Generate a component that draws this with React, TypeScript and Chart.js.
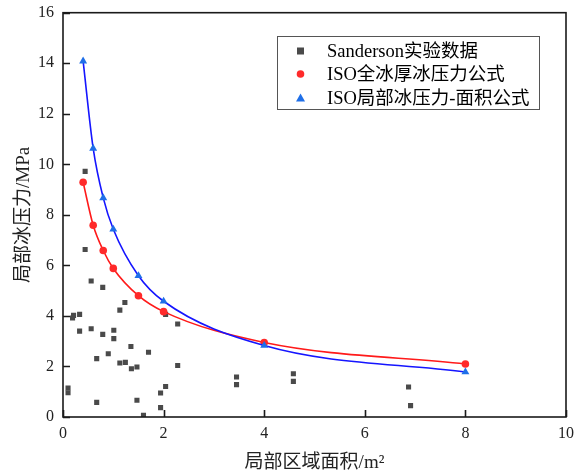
import React, { useEffect, useRef } from "react";
import { Chart, registerables } from "chart.js";

Chart.register(...registerables);

const sandersonX = [0.44, 0.44, 0.56, 0.79, 1.23, 1.13, 0.19, 0.21, 0.33, 0.33, 0.56, 0.79, 1.01, 1.01, 2.04, 2.28, 1.35, 1.70, 0.67, 0.90, 1.13, 1.24, 1.36, 1.47, 2.28, 0.10, 0.10, 0.67, 1.47, 2.04, 1.94, 1.94, 1.60, 3.45, 3.45, 4.58, 4.58, 6.87, 6.91];
const sandersonY = [9.72, 6.63, 5.38, 5.13, 4.53, 4.23, 3.92, 4.02, 4.06, 3.40, 3.49, 3.27, 3.43, 3.10, 4.06, 3.68, 2.79, 2.56, 2.31, 2.50, 2.14, 2.16, 1.91, 1.98, 2.04, 1.15, 0.96, 0.58, 0.66, 1.21, 0.95, 0.37, 0.07, 1.58, 1.28, 1.71, 1.41, 1.19, 0.45];

const isoAreas = [0.4, 0.6, 0.8, 1.0, 1.5, 2, 4, 8];
const isoFullY = [9.29, 7.59, 6.59, 5.88, 4.80, 4.17, 2.95, 2.10];
const isoLocalY = [14.08, 10.63, 8.67, 7.43, 5.59, 4.58, 2.83, 1.78];

const xTicks = [0, 2, 4, 6, 8, 10];
const yTicks = [0, 2, 4, 6, 8, 10, 12, 14, 16];

const labels = ["Sanderson实验数据", "ISO全冰厚冰压力公式", "ISO局部冰压力-面积公式"];
const xTitle = "局部区域面积/m²";
const yTitle = "局部冰压力/MPa";

const GREY = "#4a4a4a";
const RED = "#ff2a2a";
const RED_LINE = "#ff1a1a";
const BLUE = "#1f6fe8";
const BLUE_LINE = "#1515ff";
const FONT = "'Liberation Serif', 'Noto Sans CJK SC', serif";

const frameAndLegend = {
  id: "frameAndLegend",
  afterDraw(chart: any) {
    const ctx = chart.ctx;
    const { left, right, top, bottom } = chart.chartArea;
    const xs = chart.scales.x;
    const ys = chart.scales.y;
    ctx.save();
    ctx.strokeStyle = "#1a1a1a";
    ctx.lineWidth = 1.6;
    ctx.strokeRect(left, top, right - left, bottom - top);
    ctx.beginPath();
    for (const v of yTicks) {
      const y = Math.round(ys.getPixelForValue(v)) + 0.5;
      ctx.moveTo(left, y);
      ctx.lineTo(left + 7, y);
    }
    for (const v of xTicks) {
      const x = Math.round(xs.getPixelForValue(v)) + 0.5;
      ctx.moveTo(x, bottom);
      ctx.lineTo(x, bottom - 7);
    }
    ctx.stroke();

    // legend
    const bx = 277, by = 36, bw = 262, bh = 73;
    ctx.strokeStyle = "#555555";
    ctx.lineWidth = 1;
    ctx.fillStyle = "#ffffff";
    ctx.fillRect(bx, by, bw, bh);
    ctx.strokeRect(bx + 0.5, by + 0.5, bw, bh);
    const rows = [51, 74, 98];
    const mx = 300.5;
    ctx.fillStyle = GREY;
    ctx.fillRect(mx - 3.5, rows[0] - 3.5, 7, 7);
    ctx.fillStyle = RED;
    ctx.beginPath();
    ctx.arc(mx, rows[1], 3.8, 0, Math.PI * 2);
    ctx.fill();
    ctx.fillStyle = BLUE;
    ctx.beginPath();
    ctx.moveTo(mx, rows[2] - 4.5);
    ctx.lineTo(mx + 4.5, rows[2] + 3.5);
    ctx.lineTo(mx - 4.5, rows[2] + 3.5);
    ctx.closePath();
    ctx.fill();
    ctx.fillStyle = "#000000";
    ctx.font = `18.5px ${FONT}`;
    ctx.textBaseline = "middle";
    ctx.textAlign = "left";
    labels.forEach((t, i) => ctx.fillText(t, 327, rows[i] + 1));
    ctx.restore();
  },
};

export default function App() {
  const ref = useRef<HTMLCanvasElement>(null);
  useEffect(() => {
    document.body.style.margin = "0";
    const canvas = ref.current;
    if (!canvas) return;
    const chart = new Chart(canvas, {
      type: "scatter",
      data: {
        datasets: [
          {
            label: labels[0],
            data: sandersonX.map((x, i) => ({ x, y: sandersonY[i] })),
            showLine: false,
            pointStyle: "rect",
            pointRadius: 3.6,
            backgroundColor: GREY,
            borderColor: GREY,
            borderWidth: 0,
            order: 3,
          },
          {
            label: labels[1],
            data: isoAreas.map((x, i) => ({ x, y: isoFullY[i] })),
            showLine: true,
            cubicInterpolationMode: "monotone",
            borderColor: RED_LINE,
            borderWidth: 1.6,
            pointStyle: "circle",
            pointRadius: 3.8,
            pointBackgroundColor: RED,
            pointBorderWidth: 0,
            order: 2,
          },
          {
            label: labels[2],
            data: isoAreas.map((x, i) => ({ x, y: isoLocalY[i] })),
            showLine: true,
            cubicInterpolationMode: "monotone",
            borderColor: BLUE_LINE,
            borderWidth: 1.6,
            pointStyle: "triangle",
            pointRadius: 4.6,
            pointBackgroundColor: BLUE,
            pointBorderWidth: 0,
            order: 1,
          },
        ],
      },
      options: {
        animation: false,
        responsive: false,
        devicePixelRatio: 1,
        layout: { padding: { top: 12.7, right: 12, left: 0, bottom: 0 } },
        plugins: { legend: { display: false }, tooltip: { enabled: false } },
        scales: {
          x: {
            type: "linear",
            min: 0,
            max: 10,
            afterBuildTicks: (s: any) => {
              s.ticks = xTicks.map((v) => ({ value: v }));
            },
            afterFit: (s: any) => {
              s.height = 55;
              s.paddingLeft = 0;
              s.paddingRight = 0;
            },
            grid: { display: false, drawTicks: false, tickLength: 0 },
            border: { display: false },
            ticks: { color: "#222", font: { family: FONT, size: 16 }, padding: 7, maxRotation: 0 },
            title: {
              display: true,
              text: xTitle,
              color: "#222",
              font: { family: FONT, size: 19 },
              padding: { top: 0, bottom: -2 },
            },
          },
          y: {
            type: "linear",
            min: 0,
            max: 16,
            afterBuildTicks: (s: any) => {
              s.ticks = yTicks.map((v) => ({ value: v }));
            },
            afterFit: (s: any) => {
              s.width = 63;
              s.paddingTop = 0;
              s.paddingBottom = 0;
            },
            grid: { display: false, drawTicks: false, tickLength: 0 },
            border: { display: false },
            ticks: { color: "#222", font: { family: FONT, size: 16 }, padding: 9 },
            title: {
              display: true,
              text: yTitle,
              color: "#222",
              font: { family: FONT, size: 19 },
              padding: { top: 13, bottom: 0 },
            },
          },
        },
      },
      plugins: [frameAndLegend],
    } as any);
    return () => chart.destroy();
  }, []);
  return (
    <div style={{ position: "absolute", left: 0, top: 0, width: 578, height: 472, background: "#fff" }}>
      <canvas ref={ref} width={578} height={472} style={{ width: 578, height: 472 }} />
    </div>
  );
}
